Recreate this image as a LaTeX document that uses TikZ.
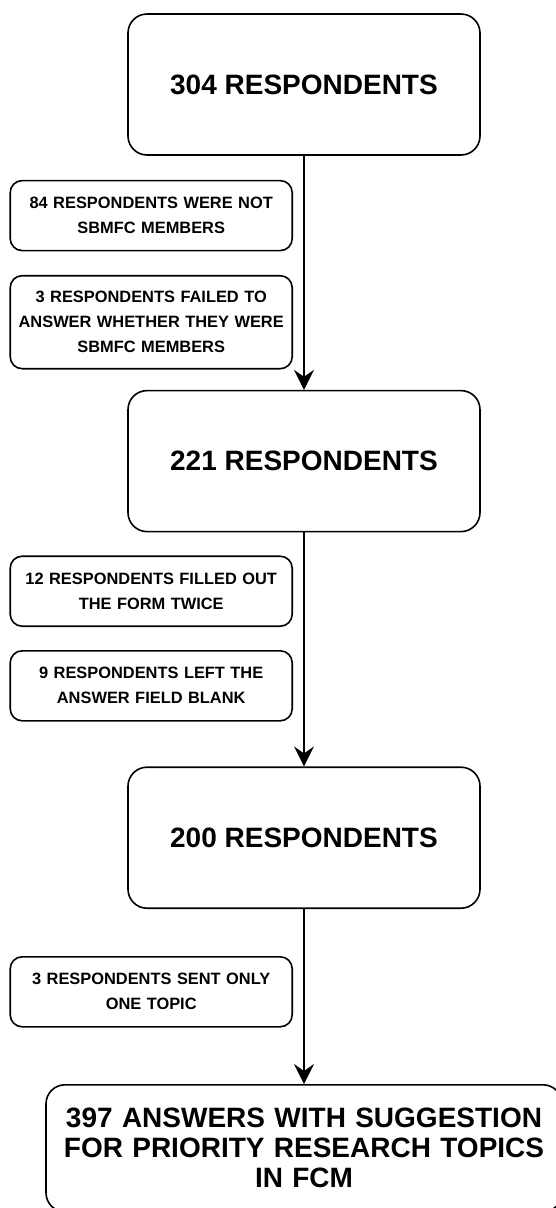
\documentclass[tikz,border=0pt]{standalone}
\usepackage{fontspec}
\setmainfont{Liberation Sans}
\usetikzlibrary{arrows.meta,positioning}

\begin{document}
\begin{tikzpicture}[>={Stealth[length=20pt,width=20pt,inset=7pt]},font=\bfseries]
\tikzset{box/.style={draw,rounded corners=19pt,align=center,line width=1.6pt,minimum width=352pt,minimum height=141pt,font=\fontsize{28}{30}\selectfont\bfseries}}
\tikzset{note/.style={draw,rounded corners=12pt,align=center,line width=1.6pt,text width=270pt,inner xsep=6pt,minimum height=70pt,font=\fontsize{16.4}{25}\selectfont\bfseries}}
\path[use as bounding box,fill=white] (0,0) rectangle (556pt,-1208pt);
\node[box] (resp304) at (304pt,-84.5pt) {304 RESPONDENTS};
\node[note,below left=24pt and 11pt of resp304.south] (notmember) {84 RESPONDENTS WERE NOT\\SBMFC MEMBERS};
\node[note,below=23.5pt of notmember,minimum height=93pt] (unanswered) {3 RESPONDENTS FAILED TO\\ANSWER WHETHER THEY WERE\\SBMFC MEMBERS};
\node[box,below=234pt of resp304] (resp221) {221 RESPONDENTS};
\node[note,below left=23pt and 11pt of resp221.south] (twice) {12 RESPONDENTS FILLED OUT\\THE FORM TWICE};
\node[note,below=23pt of twice] (blank) {9 RESPONDENTS LEFT THE\\ANSWER FIELD BLANK};
\node[box,below=234pt of resp221] (resp200) {200 RESPONDENTS};
\node[note,below left=47pt and 11pt of resp200.south] (onetopic) {3 RESPONDENTS SENT ONLY\\ONE TOPIC};
\node[box,below=175pt of resp200,minimum width=516pt,minimum height=127pt,text width=500pt,inner xsep=8pt] (answers) {397 ANSWERS WITH SUGGESTION\\FOR PRIORITY RESEARCH TOPICS\\IN FCM};
\draw[->,line width=1.5pt] (resp304) -- (resp221);
\draw[->,line width=1.5pt] (resp221) -- (resp200);
\draw[->,line width=1.5pt] (resp200) -- (answers);
\end{tikzpicture}
\end{document}
